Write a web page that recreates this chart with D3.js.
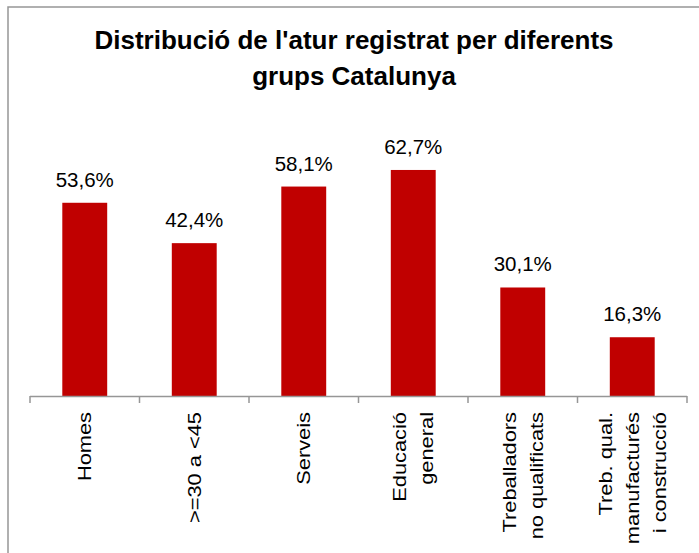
<!DOCTYPE html>
<html>
<head>
<meta charset="utf-8">
<script src="https://cdn.jsdelivr.net/npm/d3@7"></script>
<style>
  body { margin: 0; background: #fff; }
  svg { display: block; font-family: "Liberation Sans", Arial, sans-serif; }
</style>
</head>
<body>
<div id="chart"></div>
<script>
const width = 699;
const height = 553;

const titleLines = ["Distribució de l'atur registrat per diferents", "grups Catalunya"];
const categories = [
    ["Homes"],
    [">=30 a <45"],
    ["Serveis"],
    ["Educació", "general"],
    ["Treballadors", "no qualificats"],
    ["Treb. qual.", "manufacturés", "i construcció"]
];
const values = [53.6, 42.4, 58.1, 62.7, 30.1, 16.3];
const valueLabels = ["53,6%", "42,4%", "58,1%", "62,7%", "30,1%", "16,3%"];

const svg = d3.select("#chart")
    .append("svg")
        .attr("width", width)
        .attr("height", height);

// chart frame (right and bottom edges fall outside the picture)
svg.append("rect")
    .attr("x", 8)
    .attr("y", 7)
    .attr("width", width + 20)
    .attr("height", height + 20)
    .attr("fill", "none")
    .attr("stroke", "#969696")
    .attr("stroke-width", 1.5);

svg.append("g")
    .selectAll("text")
    .data(titleLines)
    .join("text")
        .attr("x", 354)
        .attr("y", (d, i) => 49 + i * 36)
        .attr("text-anchor", "middle")
        .style("font-size", "26px")
        .style("font-weight", "bold")
        .style("fill", "#000")
        .text(d => d);

const x = d3.scaleBand()
    .domain(d3.range(categories.length))
    .range([30, 687])
    .paddingInner(0.59)
    .paddingOuter(0.295);

const y = d3.scaleLinear()
    .domain([0, 100])
    .range([396, 35.5]);

svg.append("g")
    .selectAll("rect")
    .data(values)
    .join("rect")
        .attr("x", (d, i) => x(i))
        .attr("y", d => y(d))
        .attr("width", x.bandwidth())
        .attr("height", d => y(0) - y(d))
        .attr("fill", "#C00000");

svg.append("g")
    .selectAll("text")
    .data(values)
    .join("text")
        .attr("x", (d, i) => x(i) + x.bandwidth() / 2)
        .attr("y", d => y(d) - 16)
        .attr("text-anchor", "middle")
        .style("font-size", "20.5px")
        .style("fill", "#000")
        .text((d, i) => valueLabels[i]);

// category axis, ticks sit between the categories
const step = x.step();
const axis = svg.append("g");
axis.append("line")
    .attr("x1", 30).attr("x2", 687)
    .attr("y1", 396.5).attr("y2", 396.5)
    .attr("stroke", "#969696")
    .attr("stroke-width", 1.5);
axis.selectAll(".tick")
    .data(d3.range(categories.length + 1))
    .join("line")
        .attr("class", "tick")
        .attr("x1", i => 30 + i * step)
        .attr("x2", i => 30 + i * step)
        .attr("y1", 396)
        .attr("y2", 403)
        .attr("stroke", "#969696")
        .attr("stroke-width", 1.5);

const lineGap = 27;
axis.selectAll(".cat")
    .data(categories)
    .join("text")
        .attr("class", "cat")
        .attr("transform", (d, i) => `translate(${x(i) + x.bandwidth() / 2},412) rotate(-90) scale(1.18,1)`)
        .attr("text-anchor", "end")
        .style("font-size", "18.5px")
        .style("fill", "#000")
        .each(function(d) {
            const t = d3.select(this);
            d.forEach((line, j) => {
                t.append("tspan")
                    .attr("x", 0)
                    .attr("y", (j - (d.length - 1) / 2) * lineGap + 6.5)
                    .text(line);
            });
        });
</script>
</body>
</html>
